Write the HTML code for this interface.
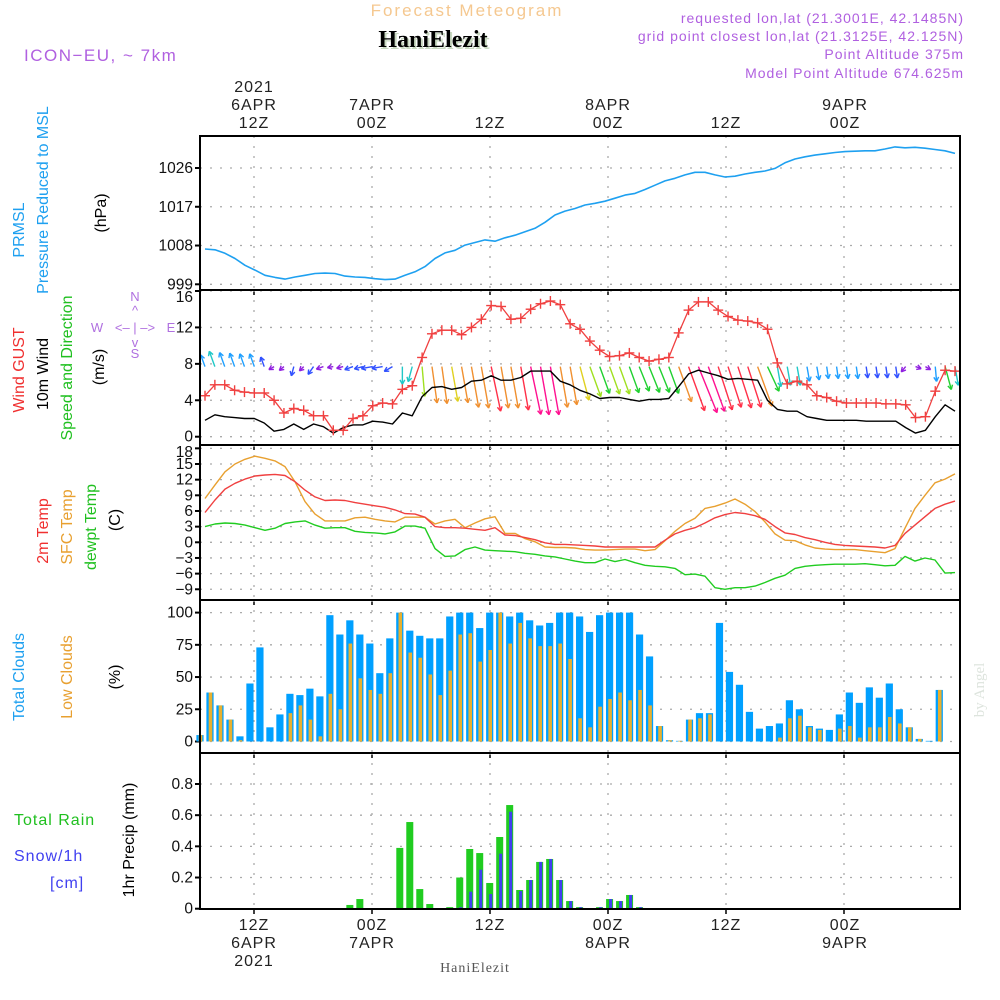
<!DOCTYPE html>
<html><head><meta charset="utf-8">
<style>
html,body{margin:0;padding:0;background:#fff;}
svg{display:block;font-family:"Liberation Sans",sans-serif;}
.tk{font-size:15.5px;fill:#111;text-anchor:end;}
.tl{font-size:16px;fill:#222;text-anchor:middle;letter-spacing:1px;}
.lab{font-size:16px;text-anchor:middle;}
.grid{stroke:#aaa;stroke-width:1.3;stroke-dasharray:2,8;fill:none;}
.frame{stroke:#000;stroke-width:2;fill:none;}
</style></head>
<body>
<svg id="chart" width="1000" height="1000" viewBox="0 0 1000 1000">
<text x="467" y="16" font-size="17" fill="#f5c890" text-anchor="middle" letter-spacing="2">Forecast Meteogram</text>
<text x="435" y="49" font-size="24" font-weight="bold" font-family="Liberation Serif, serif" fill="#c8d8c0" text-anchor="middle">HaniElezit</text>
<text x="433" y="47" font-size="24" font-weight="bold" font-family="Liberation Serif, serif" fill="#000" text-anchor="middle">HaniElezit</text>
<text x="24" y="61" font-size="17" fill="#b060e0" letter-spacing="1.5">ICON−EU, ~ 7km</text>
<g font-size="14" fill="#b060e0" text-anchor="end" letter-spacing="1">
<text x="964" y="23">requested lon,lat (21.3001E, 42.1485N)</text>
<text x="964" y="41">grid point closest lon,lat (21.3125E, 42.125N)</text>
<text x="964" y="59">Point Altitude 375m</text>
<text x="964" y="78">Model Point Altitude 674.625m</text>
</g>
<g id="timeTop">
<text class="tl" x="254" y="92">2021</text>
<text class="tl" x="254" y="110">6APR</text><text class="tl" x="254" y="128">12Z</text>
<text class="tl" x="372" y="110">7APR</text><text class="tl" x="372" y="128">00Z</text>
<text class="tl" x="490" y="128">12Z</text>
<text class="tl" x="608" y="110">8APR</text><text class="tl" x="608" y="128">00Z</text>
<text class="tl" x="726" y="128">12Z</text>
<text class="tl" x="845" y="110">9APR</text><text class="tl" x="845" y="128">00Z</text>
</g>
<g id="timeBot">
<text class="tl" x="254" y="930">12Z</text><text class="tl" x="254" y="948">6APR</text><text class="tl" x="254" y="966">2021</text>
<text class="tl" x="372" y="930">00Z</text><text class="tl" x="372" y="948">7APR</text>
<text class="tl" x="490" y="930">12Z</text>
<text class="tl" x="608" y="930">00Z</text><text class="tl" x="608" y="948">8APR</text>
<text class="tl" x="726" y="930">12Z</text>
<text class="tl" x="845" y="930">00Z</text><text class="tl" x="845" y="948">9APR</text>
</g>
<text x="475" y="972" font-size="14" font-family="Liberation Serif, serif" fill="#555" text-anchor="middle" letter-spacing="1">HaniElezit</text>
<text transform="translate(984,690) rotate(-90)" font-size="15" font-family="Liberation Serif, serif" fill="#dde4dd" text-anchor="middle">by Angel</text>

<g class="lab">
<text transform="translate(24,230) rotate(-90)" fill="#1ea0f0">PRMSL</text>
<text transform="translate(48,200) rotate(-90)" fill="#1ea0f0">Pressure Reduced to MSL</text>
<text transform="translate(106,213) rotate(-90)" fill="#000">(hPa)</text>
</g>
<g class="lab">
<text transform="translate(24,370) rotate(-90)" fill="#f03030">Wind GUST</text>
<text transform="translate(48,374) rotate(-90)" fill="#000">10m Wind</text>
<text transform="translate(72,368) rotate(-90)" fill="#20c020">Speed and Direction</text>
<text transform="translate(104,367) rotate(-90)" fill="#000">(m/s)</text>
</g>
<g font-size="13" fill="#b070e0" text-anchor="middle">
<text x="135" y="301">N</text><text x="135" y="315">^</text><text x="135" y="332">&lt;– | –&gt;</text>
<text x="97" y="332">W</text><text x="171" y="332">E</text><text x="135" y="347">v</text><text x="135" y="358">S</text>
</g>
<g class="lab">
<text transform="translate(48,531) rotate(-90)" fill="#f03030">2m Temp</text>
<text transform="translate(72,527) rotate(-90)" fill="#e8a030">SFC Temp</text>
<text transform="translate(96,527) rotate(-90)" fill="#20c020">dewpt Temp</text>
<text transform="translate(120,520) rotate(-90)" fill="#000">(C)</text>
</g>
<g class="lab">
<text transform="translate(24,677) rotate(-90)" fill="#1ea0f0">Total Clouds</text>
<text transform="translate(72,677) rotate(-90)" fill="#e8a030">Low Clouds</text>
<text transform="translate(120,677) rotate(-90)" fill="#000">(%)</text>
</g>
<g font-size="16">
<text x="14" y="825" fill="#20c020" letter-spacing="1">Total  Rain</text>
<text x="14" y="861" fill="#4040f0" letter-spacing="1">Snow/1h</text>
<text x="50" y="888" fill="#4040f0" letter-spacing="1">[cm]</text>
<text transform="translate(134,840) rotate(-90)" text-anchor="middle" fill="#000">1hr Precip (mm)</text>
</g>
<g id="plots"></g>
</svg>
<script>
const pressure=[1007.2,1007.0,1006.2,1005.0,1003.4,1002.3,1001.1,1000.6,1000.2,1000.7,1001.1,1001.5,1001.6,1001.5,1000.9,1000.7,1000.6,1000.3,1000.1,1000.2,1001.1,1001.9,1003.1,1005.0,1006.3,1006.9,1008.1,1008.7,1009.3,1009.0,1009.8,1010.4,1011.2,1012.0,1013.4,1015.1,1016.0,1016.6,1017.4,1017.8,1018.3,1019.0,1019.7,1020.1,1021.0,1022.0,1023.0,1023.6,1024.4,1025.0,1025.0,1024.4,1023.9,1024.1,1024.6,1025.0,1025.3,1025.9,1027.2,1028.1,1028.6,1029.0,1029.3,1029.6,1029.8,1029.9,1030.0,1030.0,1030.4,1030.9,1030.7,1030.8,1030.6,1030.3,1030.0,1029.4];
const gust=[4.5,5.7,5.7,5.1,4.9,4.8,4.8,4.0,2.6,3.1,2.9,2.3,2.3,0.7,0.7,2.0,2.3,3.4,3.7,3.6,5.2,5.6,8.7,11.3,11.7,11.7,11.2,12.0,12.9,14.4,14.3,12.9,13.0,14.0,14.6,14.9,14.5,12.4,11.8,10.5,9.5,8.8,8.9,9.2,8.7,8.3,8.5,8.7,11.4,13.9,14.8,14.8,13.9,13.2,12.8,12.7,12.5,11.8,8.1,5.8,6.1,5.7,4.5,4.3,3.9,3.7,3.7,3.7,3.7,3.6,3.6,3.5,2.1,2.2,5.0,7.3,7.2];
const windSpeed=[1.8,2.4,2.2,2.1,2.0,2.0,1.5,0.6,0.8,1.4,0.8,1.4,1.1,0.4,1.0,1.3,1.3,1.7,1.6,1.4,2.6,2.3,4.4,5.4,5.5,5.2,5.4,6.1,6.2,6.7,6.2,6.2,6.5,7.2,7.2,7.2,6.1,5.7,5.1,4.7,4.2,4.3,4.3,4.1,3.9,4.1,4.1,4.2,5.5,6.9,7.3,7.0,6.7,6.3,6.4,6.3,6.2,4.0,3.0,2.8,2.8,2.2,2.0,1.8,1.8,1.8,1.8,1.7,1.7,1.7,1.7,1.0,0.4,0.7,2.2,3.5,2.8];
const windDir=[160,160,160,160,160,160,160,60,50,15,45,35,70,80,75,70,75,80,80,60,0,15,355,352,352,350,350,350,350,348,350,350,350,348,350,350,350,350,345,340,340,340,340,340,338,338,338,340,340,340,338,340,342,342,342,342,340,335,350,350,350,350,350,352,352,352,352,352,352,352,352,40,290,300,355,345,350];
const temp2m=[5.7,8.1,10.2,11.3,12.1,12.7,12.9,13.0,12.8,11.6,10.0,8.7,8.0,8.1,8.0,7.6,7.3,7.0,6.7,6.2,5.5,5.4,4.8,3.0,2.8,2.8,2.7,2.5,2.3,2.8,1.4,1.3,0.9,0.5,-0.1,-0.4,-0.4,-0.5,-0.6,-0.7,-0.9,-0.9,-0.9,-0.9,-0.9,-0.9,0.4,1.6,2.3,2.8,3.7,4.7,5.3,5.7,5.5,5.1,4.4,3.0,1.8,1.5,0.9,0.5,0.0,-0.4,-0.6,-0.7,-0.8,-0.9,-1.1,-0.6,1.7,3.3,4.9,6.5,7.3,7.9];
const tempSfc=[8.4,11.0,13.5,15.0,15.9,16.5,16.1,15.6,14.5,11.6,7.8,5.4,4.1,4.1,4.1,4.7,4.8,4.4,4.1,3.9,4.8,4.8,4.8,3.5,4.1,4.4,2.8,3.7,4.5,4.9,1.7,1.7,0.7,0.1,-0.9,-1.0,-1.0,-1.1,-1.4,-1.5,-1.5,-1.4,-1.3,-1.3,-1.6,-1.4,0.3,2.1,3.6,4.6,6.5,6.9,7.5,8.3,7.3,5.9,3.9,1.6,0.4,0.3,-0.5,-1.1,-1.3,-1.4,-1.4,-1.4,-1.6,-1.8,-2.0,-1.2,2.7,6.5,9.0,11.4,12.1,13.1];
const dewpt=[3.0,3.5,3.7,3.6,3.3,2.8,2.3,2.7,3.6,3.9,4.1,3.3,2.7,2.8,2.8,2.1,1.9,1.8,1.6,2.0,3.1,3.1,2.7,-1.2,-2.7,-2.6,-1.4,-0.9,-1.5,-1.6,-1.7,-1.8,-2.1,-2.3,-2.6,-2.8,-3.2,-3.6,-3.9,-3.9,-3.2,-3.7,-3.3,-3.9,-4.4,-4.6,-4.7,-5.0,-6.2,-6.1,-6.5,-8.7,-9.0,-8.7,-8.7,-8.4,-7.7,-6.9,-6.3,-5.0,-4.6,-4.4,-4.3,-4.2,-4.2,-4.2,-4.1,-4.3,-4.5,-4.4,-2.7,-3.6,-3.0,-3.4,-5.9,-5.8];
const cloudTotal=[5,38,28,17,4,45,73,11,21,37,36,41,35,98,83,94,83,76,53,80,100,86,82,80,80,97,100,100,88,100,100,97,100,94,90,92,100,100,97,85,98,100,100,100,83,66,12,1,0.5,17,22,22,92,54,44,23,10,12,14,32,25,12,10,9,21,38,30,42,34,45,25,11,2,0.5,40,0,0];
const cloudLow=[5,38,28,17,1,0,0,0,0,22,28,17,4,37,25,76,49,40,37,53,100,69,65,52,36,55,83,84,62,71,100,76,92,80,74,74,76,64,18,11,27,33,38,32,40,28,12,1,0.5,17,18,21,0,0,0,0,0,0,3,18,20,11,9,0,10,12,3,11,11,19,14,11,2,0,40,0,0];
const rainTotal=[0,0,0,0,0,0,0,0,0,0,0,0,0,0,0,0.024,0.062,0,0,0,0.39,0.556,0.126,0.03,0,0.01,0.2,0.383,0.357,0.165,0.46,0.665,0.12,0.184,0.3,0.319,0.184,0.049,0.01,0,0.01,0.062,0.049,0.088,0.01,0,0,0,0,0,0,0,0,0,0,0,0,0,0,0,0,0,0,0,0,0,0,0,0,0,0,0,0,0,0,0,0];
const snow=[0,0,0,0,0,0,0,0,0,0,0,0,0,0,0,0,0,0,0,0,0,0,0,0,0,0,0.01,0.109,0.25,0.094,0.353,0.622,0.113,0.184,0.3,0.319,0.184,0.049,0.01,0,0.01,0.062,0.049,0.088,0.01,0,0,0,0,0,0,0,0,0,0,0,0,0,0,0,0,0,0,0,0,0,0,0,0,0,0,0,0,0,0,0,0];
const pressTicks=[999,1008,1017,1026];
const windTicks=[0,4,8,12,16];
const tempTicks=[-9,-6,-3,0,3,6,9,12,15,18];
const cloudTicks=[0,25,50,75,100];
const precipTicks=[0,0.2,0.4,0.6,0.8];
const timeGrid=[12,24,36,48,60,72];

const NS='http://www.w3.org/2000/svg';
const X0=200,X1=960;
const xTime=h=>254+(h-12)*(118/12);
const xLine=(k,n)=>205+k*(750/(n-1));
const xBar=k=>200+k*9.99;
const lin=(d0,d1,r0,r1)=>v=>r0+(v-d0)*(r1-r0)/(d1-d0);
const panels={
 press:{top:136,bot:290,y:lin(999,1026,284.3,168)},
 wind:{top:290,bot:445,y:lin(0,16,436.7,291)},
 temp:{top:445,bot:600,y:lin(0,15,542.3,464)},
 cloud:{top:600,bot:753,y:lin(0,100,741.5,612.6)},
 precip:{top:753,bot:909,y:lin(0,0.8,908.7,784)}
};
const plots=document.getElementById('plots');
function el(tag,attrs,parent){const e=document.createElementNS(NS,tag);for(const k in attrs)e.setAttribute(k,attrs[k]);(parent||plots).appendChild(e);return e;}

function axis(p,ticks,fmt,name){
 const g=el('g',{});
 
 
 ticks.forEach(t=>{
  const y=p.y(t);
  el('line',{x1:X0,x2:X1,y1:y,y2:y,class:'grid'},g);
  el('line',{x1:X0-5,x2:X0,y1:y,y2:y,stroke:'#000','stroke-width':2},g);
  let ty=y+5; if(y-p.top<8) ty=p.top+12;
  const tx=el('text',{x:X0-7,y:ty,class:'tk'},g);tx.textContent=fmt(t);
 });
 timeGrid.forEach(h=>{const x=xTime(h);el('line',{x1:x,x2:x,y1:p.top,y2:p.bot,class:'grid'},g);
  el('line',{x1:x,x2:x,y1:p.bot-1,y2:p.bot+5,stroke:'#000','stroke-width':1.5},g);});
}
axis(panels.press,pressTicks,String,'pressure');
axis(panels.wind,windTicks,String,'wind');
axis(panels.temp,tempTicks,t=>t<0?'−'+(-t):String(t),'temperature');
axis(panels.cloud,cloudTicks,String,'cloud');
axis(panels.precip,precipTicks,t=>t===0?'0':t.toFixed(1),'precip');

function polyline(arr,p,color,name,w){
 const n=arr.length;
 const pts=arr.map((v,k)=>xLine(k,n).toFixed(1)+','+p.y(v).toFixed(1)).join(' ');
 const e=el('polyline',{points:pts,fill:'none',stroke:color,'stroke-width':w||1.6,'stroke-linejoin':'round'});
 
 
 return e;
}
polyline(pressure,panels.press,'#1ea0f0','pressure-line');
function speedColor(s){
 if(s<1.2)return '#9020e0';if(s<1.75)return '#3050ff';if(s<2.3)return '#20a0ff';if(s<3.2)return '#20c8c8';
 if(s<4.3)return '#20d030';if(s<4.9)return '#a0e020';if(s<5.3)return '#e0d020';if(s<6.3)return '#f09030';
 if(s<7)return '#ff3048';return '#ff1090';}
const wg=el('g',{});


windSpeed.forEach((s,k)=>{
 const to=(windDir[k]+180)*Math.PI/180;
 const L=Math.max(6,6.8*s);
 const dx=Math.sin(to),dy=-Math.cos(to);
 const x0=xLine(k,windSpeed.length),y0=panels.wind.y(7.7);
 const x1=x0+dx*L,y1=y0+dy*L;
 const c=speedColor(s);
 const a=el('g',{stroke:c,'stroke-width':1.4,fill:'none'},wg);
 
 
 el('line',{x1:x0,y1:y0,x2:x1,y2:y1},a);
 const ang=Math.atan2(dy,dx);
 [0.5,-0.5].forEach(o=>{el('line',{x1:x1,y1:y1,x2:x1-5*Math.cos(ang+o),y2:y1-5*Math.sin(ang+o)},a);});
});
polyline(windSpeed,panels.wind,'#000','wind-speed-line',1.4);
polyline(gust,panels.wind,'#f04040','wind-gust-line',1.3);
const gg=el('g',{stroke:'#f04040','stroke-width':1.4});


gust.forEach((v,k)=>{const x=xLine(k,gust.length),y=panels.wind.y(v);
 el('line',{x1:x-5,x2:x+5,y1:y,y2:y},gg);el('line',{x1:x,x2:x,y1:y-5,y2:y+5},gg);});
polyline(tempSfc,panels.temp,'#e8a030','sfc-temp-line',1.4);
polyline(temp2m,panels.temp,'#f04040','temp-2m-line',1.4);
polyline(dewpt,panels.temp,'#20cc20','dewpoint-line',1.4);
const cg=el('g',{});


cloudTotal.forEach((v,k)=>{const x=xBar(k),y=panels.cloud.y(v),y0=panels.cloud.y(0);
 const b=el('rect',{x:x-3.6,y:y,width:7.2,height:Math.max(0,y0-y),fill:'#00a0ff'},cg);
 
 
 const yl=panels.cloud.y(cloudLow[k]);
 const o=el('rect',{x:x-1.3,y:yl,width:3.6,height:Math.max(0,y0-yl),fill:'#e8b030'},cg);
 
 
});
const pg=el('g',{});


rainTotal.forEach((v,k)=>{const x=xBar(k),y0=panels.precip.y(0);
 if(v>0){const y=panels.precip.y(v);
  const r=el('rect',{x:x-3.5,y:y,width:7,height:y0-y,fill:'#20cc20'},pg);
  
  }
 if(snow[k]>0){const ys=panels.precip.y(snow[k]);
  const s=el('rect',{x:x-0.5,y:ys,width:3,height:y0-ys,fill:'#4040f0'},pg);
  
  }
});
el('line',{x1:X0,x2:X1,y1:panels.precip.y(0),y2:panels.precip.y(0),stroke:'#000','stroke-width':1.5});
Object.keys(panels).forEach(n=>{const p=panels[n];
 const f=el('rect',{x:X0,y:p.top,width:X1-X0,height:p.bot-p.top,class:'frame'});
 
 });
</script>
</body></html>
